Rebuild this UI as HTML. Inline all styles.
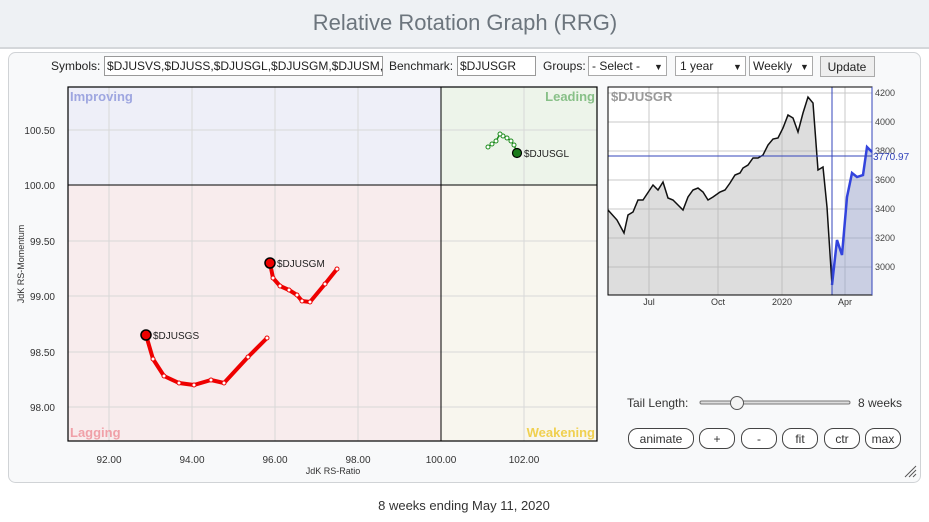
<!DOCTYPE html>
<html><head><style>
body{margin:0;width:929px;height:517px;background:#fff;overflow:hidden;font-family:"Liberation Sans",sans-serif}
</style></head><body>
<svg width="929" height="517" xmlns="http://www.w3.org/2000/svg" font-family="Liberation Sans, sans-serif">
<rect x="0" y="0" width="929" height="47" fill="#eef1f4"/>
<rect x="0" y="47" width="929" height="2" fill="#d4d7da"/>
<text x="465" y="30" font-size="22" fill="#6c757d" text-anchor="middle">Relative Rotation Graph (RRG)</text>
<rect x="8.5" y="52.5" width="912" height="430" rx="7" fill="#f8f9fa" stroke="#d0d3d6"/>
<!-- controls -->
<g font-size="12" fill="#222">
<text x="51" y="70">Symbols:</text>
<rect x="104.5" y="56.5" width="278" height="19" fill="#fff" stroke="#999"/>
<text x="107" y="70">$DJUSVS,$DJUSS,$DJUSGL,$DJUSGM,$DJUSM,</text>
<text x="389" y="70">Benchmark:</text>
<rect x="457.5" y="56.5" width="78" height="19" fill="#fff" stroke="#999"/>
<text x="460" y="70">$DJUSGR</text>
<text x="543" y="70">Groups:</text>
<rect x="588.5" y="56.5" width="78" height="19" fill="#fff" stroke="#aaa"/>
<text x="592" y="70">- Select -</text><text x="654" y="70" font-size="9">▼</text>
<rect x="675.5" y="56.5" width="70" height="19" fill="#fff" stroke="#aaa"/>
<text x="680" y="70">1 year</text><text x="733" y="70" font-size="9">▼</text>
<rect x="749.5" y="56.5" width="63" height="19" fill="#fff" stroke="#aaa"/>
<text x="753" y="70">Weekly</text><text x="800" y="70" font-size="9">▼</text>
<rect x="820.5" y="56.5" width="54" height="20" fill="#eee" stroke="#aaa"/>
<text x="847" y="71" text-anchor="middle">Update</text>
</g>
<!-- quadrants -->
<rect x="68" y="87" width="373" height="98" fill="#eeeff8"/>
<rect x="441" y="87" width="156" height="98" fill="#edf4ea"/>
<rect x="68" y="185" width="373" height="256" fill="#f8eced"/>
<rect x="441" y="185" width="156" height="256" fill="#f8f6ee"/>
<g stroke="#d8d8d8" stroke-width="1">
<line x1="109" y1="87" x2="109" y2="441"/><line x1="192" y1="87" x2="192" y2="441"/><line x1="275" y1="87" x2="275" y2="441"/><line x1="358" y1="87" x2="358" y2="441"/><line x1="524" y1="87" x2="524" y2="441"/>
<line x1="68" y1="130" x2="597" y2="130"/><line x1="68" y1="241" x2="597" y2="241"/><line x1="68" y1="296" x2="597" y2="296"/><line x1="68" y1="352" x2="597" y2="352"/><line x1="68" y1="407" x2="597" y2="407"/>
</g>
<line x1="441" y1="87" x2="441" y2="441" stroke="#000"/>
<line x1="68" y1="185" x2="597" y2="185" stroke="#000"/>
<rect x="68" y="87" width="529" height="354" fill="none" stroke="#000" stroke-width="1.2"/>
<g font-size="13" font-weight="bold">
<text x="70" y="101" fill="#9ea6e0">Improving</text>
<text x="595" y="101" fill="#88c088" text-anchor="end">Leading</text>
<text x="70" y="437" fill="#f0a0a8">Lagging</text>
<text x="595" y="437" fill="#f0d050" text-anchor="end">Weakening</text>
</g>
<g font-size="10" fill="#333" text-anchor="end">
<text x="55" y="134">100.50</text><text x="55" y="189">100.00</text><text x="55" y="245">99.50</text><text x="55" y="300">99.00</text><text x="55" y="356">98.50</text><text x="55" y="411">98.00</text>
</g>
<g font-size="10" fill="#333" text-anchor="middle">
<text x="109" y="463">92.00</text><text x="192" y="463">94.00</text><text x="275" y="463">96.00</text><text x="358" y="463">98.00</text><text x="441" y="463">100.00</text><text x="524" y="463">102.00</text>
<text x="333" y="474" font-size="9">JdK RS-Ratio</text>
</g>
<text x="24" y="264" font-size="9" fill="#333" text-anchor="middle" transform="rotate(-90 24 264)">JdK RS-Momentum</text>
<!-- tails -->
<polyline points="146,335 153,359 164,376 179,383 194,385 211,380 224,383 248,357 267,338" fill="none" stroke="#e00" stroke-width="4" stroke-linejoin="round"/>
<g fill="#fff" stroke="#e00" stroke-width="1"><circle cx="153" cy="359" r="2"/><circle cx="164" cy="376" r="2"/><circle cx="179" cy="383" r="2"/><circle cx="194" cy="385" r="2"/><circle cx="211" cy="380" r="2"/><circle cx="224" cy="383" r="2"/><circle cx="248" cy="357" r="2"/><circle cx="267" cy="338" r="2"/></g>
<circle cx="146" cy="335" r="5" fill="#e00" stroke="#000" stroke-width="1.5"/>
<text x="153" y="339" font-size="10" fill="#222">$DJUSGS</text>
<polyline points="270,263 273,278 280,286 289,290 297,295 302,301 310,302 325,284 337,269" fill="none" stroke="#e00" stroke-width="4" stroke-linejoin="round"/>
<g fill="#fff" stroke="#e00" stroke-width="1"><circle cx="273" cy="278" r="2"/><circle cx="280" cy="286" r="2"/><circle cx="289" cy="290" r="2"/><circle cx="297" cy="295" r="2"/><circle cx="302" cy="301" r="2"/><circle cx="310" cy="302" r="2"/><circle cx="325" cy="284" r="2"/><circle cx="337" cy="269" r="2"/></g>
<circle cx="270" cy="263" r="5" fill="#e00" stroke="#000" stroke-width="1.5"/>
<text x="277" y="267" font-size="10" fill="#222">$DJUSGM</text>
<polyline points="517,153 514,145 511,141 507,138 503,136 500,134 496,141 492,144 488,147" fill="none" stroke="#1a8a1a" stroke-width="1.5"/>
<g fill="#fff" stroke="#1a8a1a" stroke-width="1"><circle cx="514" cy="145" r="2"/><circle cx="511" cy="141" r="2"/><circle cx="507" cy="138" r="2"/><circle cx="503" cy="136" r="2"/><circle cx="500" cy="134" r="2"/><circle cx="496" cy="141" r="2"/><circle cx="492" cy="144" r="2"/><circle cx="488" cy="147" r="2"/></g>
<circle cx="517" cy="153" r="4.5" fill="#1a7a1a" stroke="#000" stroke-width="1.2"/>
<text x="524" y="157" font-size="10" fill="#222">$DJUSGL</text>
<!-- mini chart -->
<rect x="608" y="87" width="264" height="208" fill="#fff"/>
<g stroke="#c8c8c8"><line x1="649" y1="87" x2="649" y2="295"/><line x1="718" y1="87" x2="718" y2="295"/><line x1="782" y1="87" x2="782" y2="295"/><line x1="845" y1="87" x2="845" y2="295"/>
<line x1="608" y1="93" x2="872" y2="93"/><line x1="608" y1="122" x2="872" y2="122"/><line x1="608" y1="151" x2="872" y2="151"/><line x1="608" y1="180" x2="872" y2="180"/><line x1="608" y1="209" x2="872" y2="209"/><line x1="608" y1="238" x2="872" y2="238"/><line x1="608" y1="267" x2="872" y2="267"/></g>
<polygon points="608,295 608,210 617,220 624,233 628,215 633,212 638,200 643,200 653,185 658,190 663,182 668,198 673,200 678,205 683,210 688,197 693,190 698,188 703,192 708,200 713,197 720,192 725,190 730,183 735,175 740,173 743,168 748,165 753,158 758,158 763,155 768,145 773,139 778,138 783,128 788,115 793,118 798,132 803,113 808,97 813,103 818,170 823,167 827,207 832,285 832,295" fill="rgba(180,180,180,0.45)"/>
<polygon points="832,295 832,285 837,240 842,255 847,197 852,173 857,177 863,175 867,147 872,152 872,295" fill="rgba(150,160,200,0.5)"/>
<polyline points="608,210 617,220 624,233 628,215 633,212 638,200 643,200 653,185 658,190 663,182 668,198 673,200 678,205 683,210 688,197 693,190 698,188 703,192 708,200 713,197 720,192 725,190 730,183 735,175 740,173 743,168 748,165 753,158 758,158 763,155 768,145 773,139 778,138 783,128 788,115 793,118 798,132 803,113 808,97 813,103 818,170 823,167 827,207 832,285" fill="none" stroke="#111" stroke-width="1.5"/>
<polyline points="832,285 837,240 842,255 847,197 852,173 857,177 863,175 867,147 872,152" fill="none" stroke="#3344dd" stroke-width="2.5"/>
<line x1="608" y1="156" x2="872" y2="156" stroke="#3344bb"/>
<line x1="832" y1="87" x2="832" y2="295" stroke="#3344bb"/>
<rect x="608" y="87" width="264" height="208" fill="none" stroke="#000" stroke-width="1"/>
<line x1="872" y1="87" x2="872" y2="295" stroke="#3344bb"/>
<text x="611" y="101" font-size="13" font-weight="bold" fill="#999">$DJUSGR</text>
<g font-size="9" fill="#444"><text x="875" y="96">4200</text><text x="875" y="125">4000</text><text x="875" y="154">3800</text><text x="875" y="183">3600</text><text x="875" y="212">3400</text><text x="875" y="241">3200</text><text x="875" y="270">3000</text></g>
<text x="873" y="160" font-size="10" fill="#3344bb">3770.97</text>
<g font-size="9" fill="#333" text-anchor="middle"><text x="649" y="305">Jul</text><text x="718" y="305">Oct</text><text x="782" y="305">2020</text><text x="845" y="305">Apr</text></g>
<!-- tail length -->
<text x="627" y="407" font-size="12" fill="#333">Tail Length:</text>
<rect x="700" y="401" width="150" height="3" rx="1.5" fill="#ddd" stroke="#777"/>
<circle cx="737" cy="403" r="6.5" fill="#f4f4f4" stroke="#555"/>
<text x="858" y="407" font-size="12" fill="#333">8 weeks</text>
<g font-size="12" fill="#333" text-anchor="middle">
<rect x="628.5" y="428.5" width="65" height="20" rx="9" fill="#fff" stroke="#444"/><text x="661" y="443">animate</text>
<rect x="699.5" y="428.5" width="35" height="20" rx="9" fill="#fff" stroke="#444"/><text x="717" y="443">+</text>
<rect x="741.5" y="428.5" width="35" height="20" rx="9" fill="#fff" stroke="#444"/><text x="759" y="443">-</text>
<rect x="782.5" y="428.5" width="35" height="20" rx="9" fill="#fff" stroke="#444"/><text x="800" y="443">fit</text>
<rect x="824.5" y="428.5" width="35" height="20" rx="9" fill="#fff" stroke="#444"/><text x="842" y="443">ctr</text>
<rect x="865.5" y="428.5" width="35" height="20" rx="9" fill="#fff" stroke="#444"/><text x="883" y="443">max</text>
</g>
<g stroke="#555"><line x1="905" y1="477" x2="916" y2="466"/><line x1="909" y1="477" x2="916" y2="470"/><line x1="913" y1="477" x2="916" y2="474"/></g>
<text x="464" y="510" font-size="13" fill="#333" text-anchor="middle">8 weeks ending May 11, 2020</text>
</svg>
</body></html>
